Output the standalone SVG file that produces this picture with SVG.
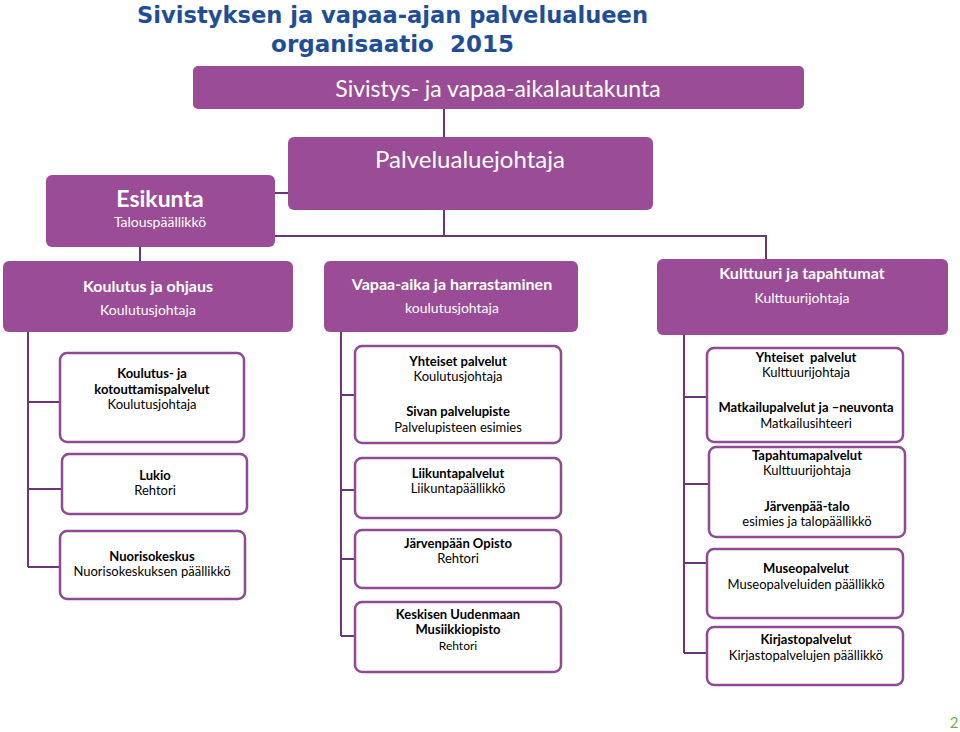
<svg xmlns="http://www.w3.org/2000/svg" width="960" height="732" viewBox="0 0 960 732">
<style>
.pb{fill:#9A4D96}
.wb{fill:#fff;stroke:#8E4B93;stroke-width:2.5}
.c{stroke:#6B3579;stroke-width:2;fill:none}
text{font-family:Lato,"Open Sans","Liberation Sans",sans-serif;text-anchor:middle}
.t{font-family:"DejaVu Sans","Liberation Sans",sans-serif;font-weight:bold;fill:#1F4E96;font-size:23px}
.w{fill:#fff}
.wl{fill:#fff;font-size:23px}
.wh{fill:#fff;font-size:16px;font-weight:bold}
.ws{fill:#fff;font-size:14px}
.b{fill:#000;font-size:13px;font-weight:bold}
.r{fill:#000;font-size:13px}
.sm{fill:#000;font-size:12px}
</style>
<rect width="960" height="732" fill="#fff"/>
<g id="title">
<text class="t" x="392.5" y="23" textLength="511" lengthAdjust="spacingAndGlyphs">Sivistyksen ja vapaa-ajan palvelualueen</text>
<text class="t" x="392.5" y="52" xml:space="preserve">organisaatio  2015</text>
</g>
<g id="connectors">
<path class="c" d="M444 109V137"/>
<path class="c" d="M275 193H288"/>
<path class="c" d="M444 210V236M275 236H766V259"/>
<path class="c" d="M140 247V261"/>
<path class="c" d="M28 332V567M28 402H60M28 489H62M28 567H60"/>
<path class="c" d="M341 332V636M341 395H355M341 490H355M341 559H355M341 636H355"/>
<path class="c" d="M684 335V653M684 397H707M684 484H709M684 563H707M684 653H707"/>
</g>
<g id="n-lautakunta">
<rect class="pb" x="193" y="66" width="611" height="43" rx="5"/>
<text class="wl" x="498" y="97">Sivistys- ja vapaa-aikalautakunta</text>
</g>
<g id="n-palvelualuejohtaja">
<rect class="pb" x="288" y="137" width="365" height="73" rx="6"/>
<text class="wl" x="470" y="168" style="font-size:24px">Palvelualuejohtaja</text>
</g>
<g id="n-esikunta">
<rect class="pb" x="46" y="175" width="229" height="72" rx="6"/>
<text class="w" x="160" y="207" style="font-size:23px;font-weight:bold">Esikunta</text>
<text class="ws" x="160" y="227">Talouspäällikkö</text>
</g>
<g id="n-koulutus">
<rect class="pb" x="3" y="261" width="290" height="71" rx="6"/>
<text class="wh" x="148" y="292">Koulutus ja ohjaus</text>
<text class="ws" x="148" y="315">Koulutusjohtaja</text>
</g>
<g id="n-vapaa-aika">
<rect class="pb" x="324" y="261" width="254" height="71" rx="6"/>
<text class="wh" x="452" y="290">Vapaa-aika ja harrastaminen</text>
<text class="ws" x="452" y="313">koulutusjohtaja</text>
</g>
<g id="n-kulttuuri">
<rect class="pb" x="657" y="259" width="291" height="76" rx="6"/>
<text class="wh" x="802" y="279">Kulttuuri ja tapahtumat</text>
<text class="ws" x="802" y="303">Kulttuurijohtaja</text>
</g>
<g id="n-kotouttamis">
<rect class="wb" x="60" y="353" width="184" height="89" rx="7"/>
<text class="b" x="152" y="378">Koulutus- ja</text>
<text class="b" x="152" y="394">kotouttamispalvelut</text>
<text class="r" x="152" y="409">Koulutusjohtaja</text>
</g>
<g id="n-lukio">
<rect class="wb" x="62" y="454" width="185" height="60" rx="7"/>
<text class="b" x="155" y="480">Lukio</text>
<text class="r" x="155" y="495">Rehtori</text>
</g>
<g id="n-nuoriso">
<rect class="wb" x="60" y="531" width="185" height="68" rx="7"/>
<text class="b" x="152" y="561">Nuorisokeskus</text>
<text class="r" x="152" y="576">Nuorisokeskuksen päällikkö</text>
</g>
<g id="n-yhteiset-va">
<rect class="wb" x="355" y="346" width="206" height="97" rx="7"/>
<text class="b" x="458" y="366">Yhteiset palvelut</text>
<text class="r" x="458" y="381">Koulutusjohtaja</text>
<text class="b" x="458" y="416">Sivan palvelupiste</text>
<text class="r" x="458" y="432">Palvelupisteen esimies</text>
</g>
<g id="n-liikunta">
<rect class="wb" x="355" y="458" width="206" height="60" rx="7"/>
<text class="b" x="458" y="478">Liikuntapalvelut</text>
<text class="r" x="458" y="493">Liikuntapäällikkö</text>
</g>
<g id="n-opisto">
<rect class="wb" x="355" y="530" width="206" height="58" rx="7"/>
<text class="b" x="458" y="548">Järvenpään Opisto</text>
<text class="r" x="458" y="563">Rehtori</text>
</g>
<g id="n-musiikki">
<rect class="wb" x="355" y="602" width="206" height="70" rx="7"/>
<text class="b" x="458" y="619">Keskisen Uudenmaan</text>
<text class="b" x="458" y="634">Musiikkiopisto</text>
<text class="sm" x="458" y="650">Rehtori</text>
</g>
<g id="n-yhteiset-ku">
<rect class="wb" x="707" y="348" width="196" height="94" rx="7"/>
<text class="b" x="806" y="362" xml:space="preserve">Yhteiset  palvelut</text>
<text class="r" x="806" y="377">Kulttuurijohtaja</text>
<text class="b" x="806" y="412">Matkailupalvelut ja –neuvonta</text>
<text class="r" x="806" y="428">Matkailusihteeri</text>
</g>
<g id="n-tapahtuma">
<rect class="wb" x="709" y="447" width="196" height="90" rx="7"/>
<text class="b" x="807" y="460">Tapahtumapalvelut</text>
<text class="r" x="807" y="475">Kulttuurijohtaja</text>
<text class="b" x="807" y="511">Järvenpää-talo</text>
<text class="r" x="807" y="526">esimies ja talopäällikkö</text>
</g>
<g id="n-museo">
<rect class="wb" x="707" y="549" width="196" height="69" rx="7"/>
<text class="b" x="806" y="573">Museopalvelut</text>
<text class="r" x="806" y="589">Museopalveluiden päällikkö</text>
</g>
<g id="n-kirjasto">
<rect class="wb" x="707" y="627" width="196" height="58" rx="7"/>
<text class="b" x="806" y="644">Kirjastopalvelut</text>
<text class="r" x="806" y="660">Kirjastopalvelujen päällikkö</text>
</g>
<text x="954" y="728" style="font-size:15px;fill:#77B043;text-anchor:middle">2</text>
</svg>
